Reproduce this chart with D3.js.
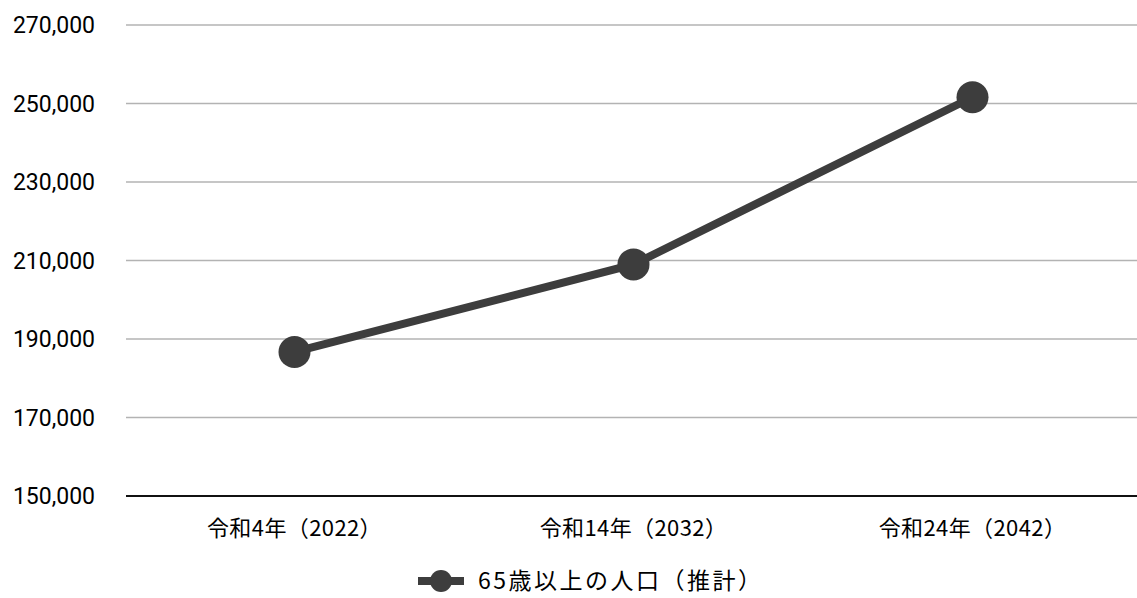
<!DOCTYPE html>
<html>
<head>
<meta charset="utf-8">
<script src="https://cdn.jsdelivr.net/npm/d3@7.9.0/dist/d3.min.js"></script>
<style>
  body { margin: 0; background: #fff; }
  svg text { font-family: "Noto Sans CJK JP", "Noto Sans", sans-serif; fill: #000; }
</style>
</head>
<body>
<svg id="chart" width="1137" height="598"></svg>
<script>
const categories = ["令和4年（2022）", "令和14年（2032）", "令和24年（2042）"];
const values = [186700, 209000, 251600];
const yTicks = [150000, 170000, 190000, 210000, 230000, 250000, 270000];
const seriesName = "65歳以上の人口（推計）";

const svg = d3.select("#chart");
const margin = { left: 125, right: -5, top: 25, bottom: 102 };
const width = 1137, height = 598;

const x = d3.scaleBand()
  .domain(categories)
  .range([margin.left, width - margin.right]);

const y = d3.scaleLinear()
  .domain([150000, 270000])
  .range([height - margin.bottom, margin.top]);

const lineColor = "#3d3d3d";

// gridlines
svg.append("g")
  .selectAll("line")
  .data(yTicks.slice(1))
  .join("line")
  .attr("x1", 126)
  .attr("x2", width)
  .attr("y1", (d) => y(d))
  .attr("y2", (d) => y(d))
  .attr("stroke", "#b3b3b3")
  .attr("stroke-width", 1.5);

// baseline
svg.append("line")
  .attr("x1", 126)
  .attr("x2", width)
  .attr("y1", y(150000))
  .attr("y2", y(150000))
  .attr("stroke", "#111")
  .attr("stroke-width", 2);

// y labels
svg.append("g")
  .selectAll("text")
  .data(yTicks)
  .join("text")
  .attr("x", 95)
  .attr("y", (d) => y(d))
  .attr("dy", "0.36em")
  .attr("text-anchor", "end")
  .attr("font-size", 23)
  .style("font-family", "Roboto, 'Noto Sans', sans-serif")
  .text((d) => d3.format(",")(d));

// x labels
svg.append("g")
  .selectAll("text")
  .data(categories)
  .join("text")
  .attr("x", (d) => x(d) + x.bandwidth() / 2)
  .attr("y", 528)
  .attr("dy", "0.35em")
  .attr("text-anchor", "middle")
  .attr("font-size", 22)
  .attr("letter-spacing", 0.4)
  .text((d) => d);

// line
const line = d3.line()
  .x((d, i) => x(categories[i]) + x.bandwidth() / 2)
  .y((d) => y(d));

svg.append("path")
  .datum(values)
  .attr("d", line)
  .attr("fill", "none")
  .attr("stroke", lineColor)
  .attr("stroke-width", 8);

svg.append("g")
  .selectAll("circle")
  .data(values)
  .join("circle")
  .attr("cx", (d, i) => x(categories[i]) + x.bandwidth() / 2)
  .attr("cy", (d) => y(d))
  .attr("r", 16)
  .attr("fill", lineColor);

// legend
const legend = svg.append("g").attr("transform", "translate(418,581)");
legend.append("line")
  .attr("x1", 0).attr("x2", 46)
  .attr("stroke", lineColor)
  .attr("stroke-width", 8);
legend.append("circle")
  .attr("cx", 23).attr("r", 11)
  .attr("fill", lineColor);
legend.append("text")
  .attr("x", 60)
  .attr("dy", "0.35em")
  .attr("font-size", 23)
  .attr("letter-spacing", 2.5)
  .text(seriesName);
</script>
</body>
</html>
